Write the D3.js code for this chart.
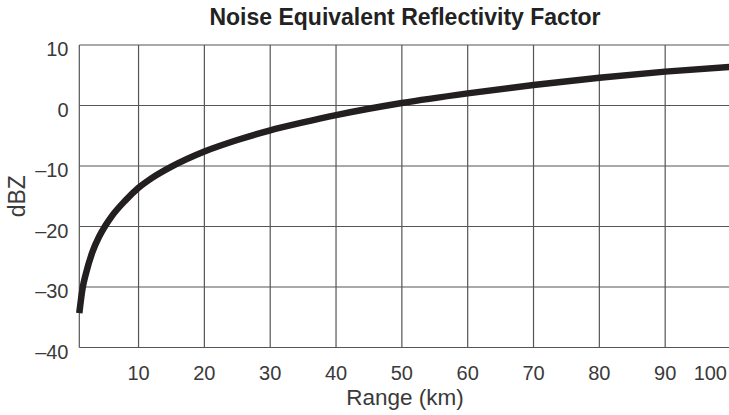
<!doctype html>
<html lang="en">
<head>
    <meta charset="UTF-8">
    <script src="https://cdnjs.cloudflare.com/ajax/libs/d3/7.8.5/d3.min.js"></script>
    <title>Noise Equivalent Reflectivity Factor</title>
    <style>
        body { margin: 0; background: #fff; }
        text { font-family: "Liberation Sans", Arial, sans-serif; }
    </style>
</head>
<body>

<div id="viz_area"></div>

<script>
    // values
    const rangeKm = [1, 1.5, 2, 3, 4, 5, 6, 8, 10, 12, 15, 20, 25, 30, 35, 40, 50, 60, 70, 80, 90, 100];
    const dbz = [-34.3, -30.2, -27.8, -24.2, -21.7, -19.8, -18.2, -15.7, -13.6, -12.0, -10.1,
                 -7.6, -5.7, -4.1, -2.8, -1.6, 0.4, 2.0, 3.4, 4.6, 5.6, 6.4];
    const xTicks = [10, 20, 30, 40, 50, 60, 70, 80, 90, 100];
    const yTicks = [-40, -30, -20, -10, 0, 10];

    const W = 729, H = 415;
    const margin = {top: 45, right: -2, bottom: 67.5, left: 79.3};

    const svg = d3.select('#viz_area')
        .append('svg')
        .attr('width', W)
        .attr('height', H);

    const x = d3.scaleLinear().domain([1, 100]).range([margin.left, W - margin.right]);
    const y = d3.scaleLinear().domain([-40, 10]).range([H - margin.bottom, margin.top]);

    const gridColor = '#555';

    // grid
    svg.append('g')
        .selectAll('line')
        .data(xTicks)
        .join('line')
        .attr('x1', d => x(d)).attr('x2', d => x(d))
        .attr('y1', y(10)).attr('y2', y(-40))
        .attr('stroke', gridColor)
        .attr('stroke-width', 1.2);

    svg.append('g')
        .selectAll('line')
        .data(yTicks)
        .join('line')
        .attr('x1', x(1)).attr('x2', W)
        .attr('y1', d => y(d)).attr('y2', d => y(d))
        .attr('stroke', gridColor)
        .attr('stroke-width', 1.2);

    // left frame
    svg.append('line')
        .attr('x1', x(1)).attr('x2', x(1))
        .attr('y1', y(10)).attr('y2', y(-40))
        .attr('stroke', gridColor)
        .attr('stroke-width', 1.2);

    // tick labels
    svg.append('g')
        .selectAll('text')
        .data(yTicks)
        .join('text')
        .attr('x', 68.5)
        .attr('y', d => y(d) + 4)
        .attr('dy', '0.36em')
        .attr('text-anchor', 'end')
        .attr('font-size', 20)
        .attr('fill', '#3a3a3a')
        .text(d => d < 0 ? '\u2013' + Math.abs(d) : d);

    svg.append('g')
        .selectAll('text')
        .data(xTicks)
        .join('text')
        .attr('x', d => d === 100 ? W - 2 : x(d))
        .attr('y', 380)
        .attr('text-anchor', d => d === 100 ? 'end' : 'middle')
        .attr('font-size', 20)
        .attr('fill', '#3a3a3a')
        .text(d => d);

    // axis titles
    svg.append('text')
        .attr('x', 405)
        .attr('y', 405)
        .attr('text-anchor', 'middle')
        .attr('font-size', 22.5)
        .attr('fill', '#3a3a3a')
        .text('Range (km)');

    svg.append('text')
        .attr('transform', `translate(25, ${(y(10) + y(-40)) / 2}) rotate(-90)`)
        .attr('text-anchor', 'middle')
        .attr('font-size', 23)
        .attr('fill', '#3a3a3a')
        .text('dBZ');

    svg.append('text')
        .attr('x', 405)
        .attr('y', 24.5)
        .attr('text-anchor', 'middle')
        .attr('font-size', 23)
        .attr('font-weight', 'bold')
        .attr('fill', '#222')
        .text('Noise Equivalent Reflectivity Factor');

    // curve
    const line = d3.line()
        .x((d, i) => x(rangeKm[i]))
        .y(d => y(d))
        .curve(d3.curveMonotoneX);

    svg.append('path')
        .datum(dbz)
        .attr('d', line)
        .attr('fill', 'none')
        .attr('stroke', '#231f20')
        .attr('stroke-width', 6.5);
</script>
</body>
</html>
